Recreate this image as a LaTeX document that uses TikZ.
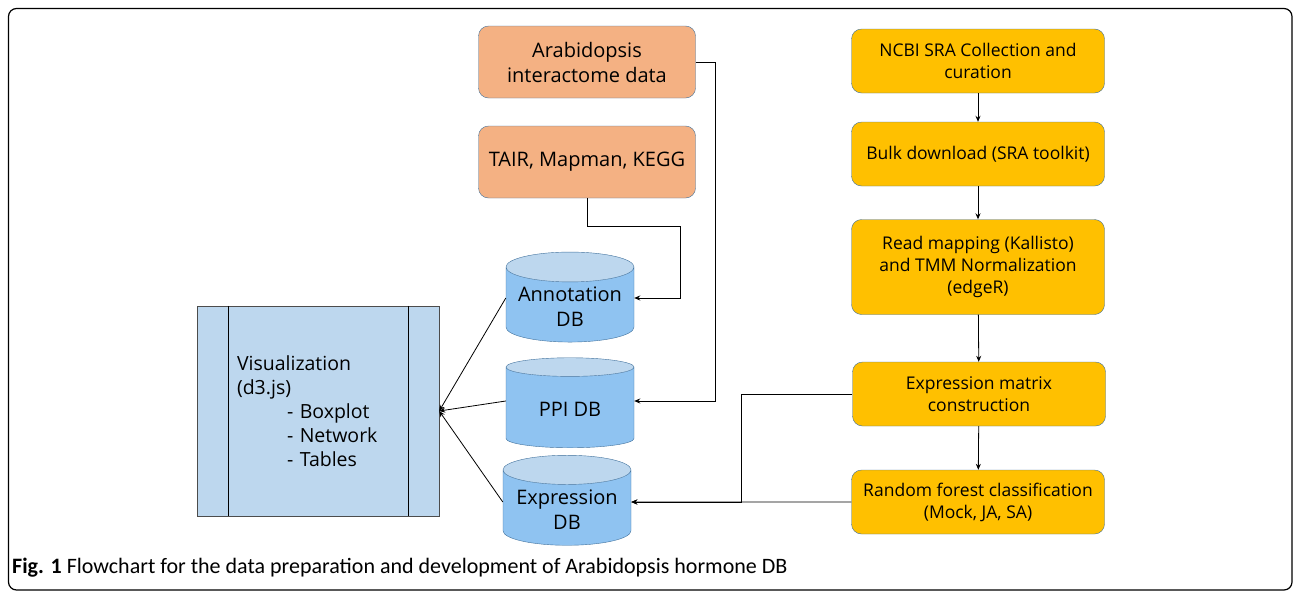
\documentclass[tikz,border=0pt]{standalone}
\usepackage{fontspec}
\setmainfont{Open Sans}
\newfontfamily\capfont{Carlito}
\usetikzlibrary{positioning,arrows.meta,shapes.geometric}
\definecolor{PeachFill}{HTML}{F4B183}
\definecolor{GoldFill}{HTML}{FFC000}
\definecolor{EdgeBlue}{HTML}{41719C}
\definecolor{DBBody}{HTML}{8FC3F1}
\definecolor{DBTop}{HTML}{BDD7EE}
\definecolor{VisFill}{HTML}{BDD7EE}

\begin{document}
\begin{tikzpicture}[
        x=1pt, y=-1pt,
        srcbox/.style={
            draw=EdgeBlue,
            fill=PeachFill,
            rounded corners=10pt,
            align=center,
            font=\fontsize{20}{25}\selectfont,
            minimum width=217pt,
            minimum height=72pt
        },
        stepbox/.style={
            draw=EdgeBlue,
            fill=GoldFill,
            rounded corners=10pt,
            align=center,
            font=\fontsize{17.5}{22}\selectfont,
            minimum width=253pt,
            minimum height=64pt,
            inner sep=2pt
        },
        dbnode/.style={
            cylinder,
            shape border rotate=90,
            draw=EdgeBlue,
            cylinder uses custom fill,
            cylinder body fill=DBBody,
            cylinder end fill=DBTop,
            aspect=0.27,
            align=center,
            font=\fontsize{20}{25}\selectfont,
            minimum width=128pt,
            minimum height=90pt
        },
        arr/.style={-{Stealth[length=6pt,width=5pt]}, line width=0.8pt}
    ]
        \useasboundingbox (0,0) rectangle (1293,592);
        \draw[line width=1.2pt, rounded corners=8pt] (8.5,8.5) rectangle (1292,590);

        % data sources
        \node[srcbox] (inter) at (587,62) {Arabidopsis\\interactome data};
        \node[srcbox] (tair) at (587,162) {TAIR, Mapman, KEGG};

        % databases
        \node[dbnode] (annot) at (570,307) {Annotation\\DB};
        \node[dbnode] (ppi) at (570,409) {PPI DB};
        \node[dbnode] (exprdb) at (567,510) {Expression\\DB};
        \coordinate (annotin) at ([yshift=9pt]annot.east);
        \coordinate (ppiin) at ([yshift=8pt]ppi.east);
        \coordinate (exprin) at ([yshift=8pt]exprdb.east);

        % web front end
        \node[draw=black!70, fill=VisFill, minimum width=242pt, minimum height=210pt,
              text width=162pt, inner sep=0pt, align=left, font=\fontsize{19.5}{24}\selectfont]
            (vis) at (318,411) {Visualization\\(d3.js)\\\hspace*{50pt}- Boxplot\\\hspace*{50pt}- Network\\\hspace*{50pt}- Tables};
        \draw ([xshift=31pt]vis.north west) -- ([xshift=31pt]vis.south west);
        \draw ([xshift=-31pt]vis.north east) -- ([xshift=-31pt]vis.south east);

        % RNA-seq pipeline
        \node[stepbox] (ncbi) at (978,61) {NCBI SRA Collection and\\curation};
        \node[stepbox] (bulk) at (978,154) {Bulk download (SRA toolkit)};
        \node[stepbox, minimum height=95pt] (readmap) at (978,267) {Read mapping (Kallisto)\\and TMM Normalization\\(edgeR)};
        \node[stepbox] (matrix) at (979,394) {Expression matrix\\construction};
        \node[stepbox] (forest) at (978,502) {Random forest classification\\(Mock, JA, SA)};

        \draw[arr] (ncbi) -- (bulk);
        \draw[arr] (bulk) -- (readmap);
        \draw[arr] (readmap) -- (matrix);
        \draw[arr] (matrix) -- (forest);

        \draw[arr] (inter.east) -- ++(20,0) |- (ppiin);
        \draw[arr] (tair.south) -- ++(0,28) -| ([xshift=46pt]annotin) -- (annotin);
        \draw[arr] (matrix.west) -- ++(-111,0) |- (exprin);
        \draw[arr] (forest.west) -- (exprin);

        \draw[arr] ([yshift=9pt]annot.west) -- (vis.east);
        \draw[arr] ([yshift=8pt]ppi.west) -- (vis.east);
        \draw[arr] ([yshift=8pt]exprdb.west) -- (vis.east);

        \node[anchor=west, font=\capfont\fontsize{22}{26}\selectfont, inner sep=0pt] (caption) at (12,568)
            {\textbf{Fig. 1} Flowchart for the data preparation and development of Arabidopsis hormone DB};
    \end{tikzpicture}
\end{document}
